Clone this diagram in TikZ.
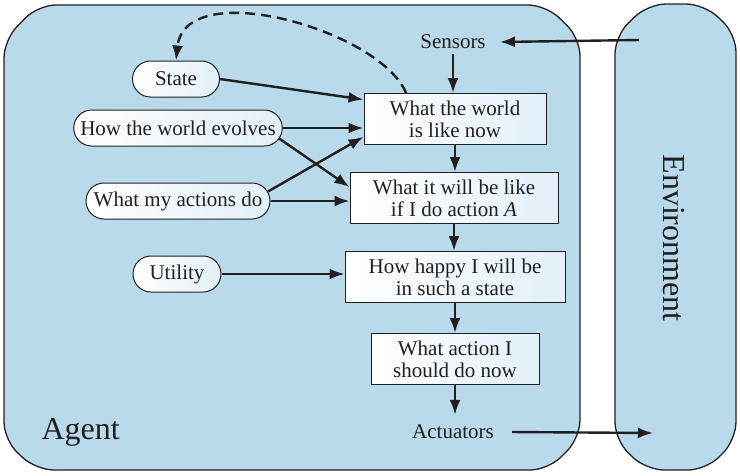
\documentclass[tikz,border=0pt]{standalone}
\usepackage{fontspec}
\setmainfont{Liberation Serif}
\usetikzlibrary{arrows.meta, shapes.misc, positioning}
\definecolor{fondo}{RGB}{184,218,234}
\definecolor{nodo}{RGB}{226,240,249}
\definecolor{tinta}{RGB}{35,31,32}

\begin{document}
\begin{tikzpicture}[x=1pt, y=-1pt,
  caja/.style={draw=tinta, line width=1pt, left color=white, right color=nodo, align=center, inner xsep=10pt, inner ysep=7pt, minimum height=51pt, font=\fontsize{21}{22}\selectfont, text=tinta},
  ovalo/.style={draw=tinta, line width=1pt, rounded rectangle, left color=white, right color=nodo, minimum height=36pt, inner xsep=5pt, font=\fontsize{21}{22}\selectfont, text=tinta},
  etiq/.style={font=\fontsize{21}{22}\selectfont, text=tinta},
  flecha/.style={line width=2.4pt, draw=tinta, -{Latex[length=15pt,width=11pt]}}]
\useasboundingbox (0,0) rectangle (740,475);

% Agente y entorno
\draw[fill=fondo, draw=tinta, line width=1.3pt, rounded corners=18pt] (4,40) -- (38,5) -- (546,5) -- (580,38) -- (580,438) -- (548,470) -- (36,470) -- (4,440) -- cycle;
\draw[fill=fondo, draw=tinta, line width=1.3pt, rounded corners=18pt] (615,36) -- (648,4) -- (704,4) -- (736,34) -- (736,440) -- (706,470) -- (646,470) -- (615,440) -- cycle;
\node[text=tinta, font=\fontsize{32}{34}\selectfont, anchor=base west] (agente) at (38,439) {Agent};
\node[text=tinta, font=\fontsize{32}{34}\selectfont, rotate=-90, anchor=base] (entorno) at (663,238) {Environment};
\coordinate (ent) at (639,40);
\coordinate (sal) at (653,433);

% Cajas del centro
\node[etiq, inner xsep=14pt, inner ysep=5pt] (sens) at (453,42) {Sensors};
\node[caja, minimum width=182pt] (mundo) at (455,119) {What the world\\is like now};
\node[caja, minimum width=208pt] (efecto) at (454,198) {What it will be like\\if I do action \textit{A}};
\node[caja, minimum width=220pt] (feliz) at (455,277) {How happy I will be\\in such a state};
\node[caja, minimum width=168pt] (accion) at (455,359) {What action I\\should do now};
\node[etiq, inner xsep=18pt, inner ysep=10pt] (act) at (453,432) {Actuators};

% Conocimiento del agente
\node[ovalo, minimum width=97pt] (estado) at (176,79) {State};
\node[ovalo] (evol) at (178,128) {How the world evolves};
\node[ovalo] (hace) at (178,201) {What my actions do};
\node[ovalo, minimum width=98pt] (util) at (177,274) {Utility};

% Flechas
\draw[flecha] (ent) -- (sens.east);
\draw[flecha] (act.east) -- (sal);
\foreach \a/\b in {sens/mundo, mundo/efecto, efecto/feliz, feliz/accion, accion/act} {
    \draw[flecha] (\a.south) -- (\a.south |- \b.north);
}
\foreach \a/\b in {evol/mundo, hace/efecto, util/feliz} {
    \draw[flecha] (\a.east) -- (\a.east -| \b.west);
}
\draw[flecha] (estado.east) -- (mundo.168);
\draw[flecha] (evol.-6) -- (efecto.174);
\draw[flecha] (hace.6) -- (mundo.191);
\draw[flecha, dash pattern=on 10pt off 6pt] (mundo.152) .. controls (380,30) and (185,-25) .. (estado.north);
\end{tikzpicture}
\end{document}
